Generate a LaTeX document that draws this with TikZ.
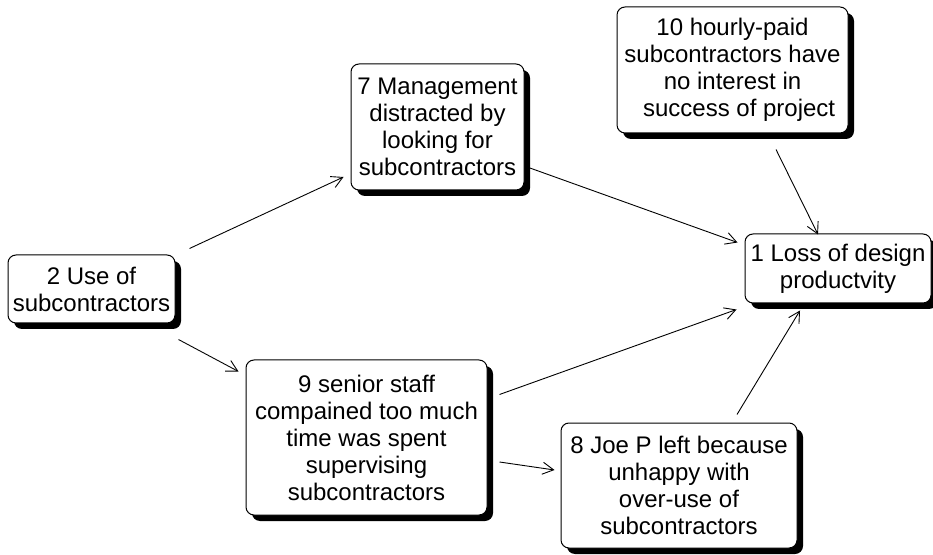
\documentclass[tikz,border=0pt]{standalone}
\usepackage{fontspec}
\setmainfont{Liberation Sans}
\usetikzlibrary{arrows.meta,shadows}

\begin{document}
\begin{tikzpicture}[
      x=1pt, y=1pt,
      box/.style={draw, rounded corners=8pt, fill=white, align=center, inner sep=0pt,
        font=\fontsize{24}{27}\selectfont, line width=1pt,
        drop shadow={shadow xshift=6pt, shadow yshift=-6pt, fill=black, opacity=1}},
      arr/.style={-{Straight Barb[length=11pt,width=12pt]}, line width=0.9pt}
    ]
    \useasboundingbox (0,0) rectangle (933,554);

    \node[box, minimum width=167pt, minimum height=68pt] (use) at (91.5,265)
      {2 Use of\\subcontractors};
    \node[box, minimum width=173pt, minimum height=126pt] (mgmt) at (437.5,427)
      {7 Management\\distracted by\\looking for\\subcontractors};
    \node[box, minimum width=231pt, minimum height=126pt] (hourly) at (732.5,484)
      {10 hourly-paid\\subcontractors have\\no interest in\\\hspace*{0.55em}success of project};
    \node[box, minimum width=186pt, minimum height=69pt] (loss) at (838,285.5)
      {1 Loss of design\\productvity};
    \node[box, minimum width=241pt, minimum height=155pt] (senior) at (366.5,116.5)
      {9 senior staff\\compained too much\\time was spent\\supervising\\subcontractors};
    \node[box, minimum width=236pt, minimum height=125pt] (joe) at (679,68.5)
      {8 Joe P left because\\unhappy with\\over-use of\\subcontractors};

    \draw[arr] ([shift={(14,6)}]use.north east) -- ([shift={(-7,-50)}]mgmt.west);
    \draw[arr] ([shift={(3,-16)}]use.south east) -- ([shift={(-7,-12)}]senior.north west);
    \draw[arr] ([shift={(4,23)}]mgmt.south east) -- ([shift={(-7,-9)}]loss.north west);
    \draw[arr] ([shift={(43.5,-16)}]hourly.south) -- ([shift={(-20,-1)}]loss.north);
    \draw[arr] ([shift={(12,-35)}]senior.north east) -- ([shift={(-8,-6)}]loss.south west);
    \draw[arr] ([shift={(12,-24.5)}]senior.east) -- ([shift={(-6,15.5)}]joe.west);
    \draw[arr] ([shift={(58,8)}]joe.north) -- ([shift={(-38,-7)}]loss.south);

\end{tikzpicture}
\end{document}
